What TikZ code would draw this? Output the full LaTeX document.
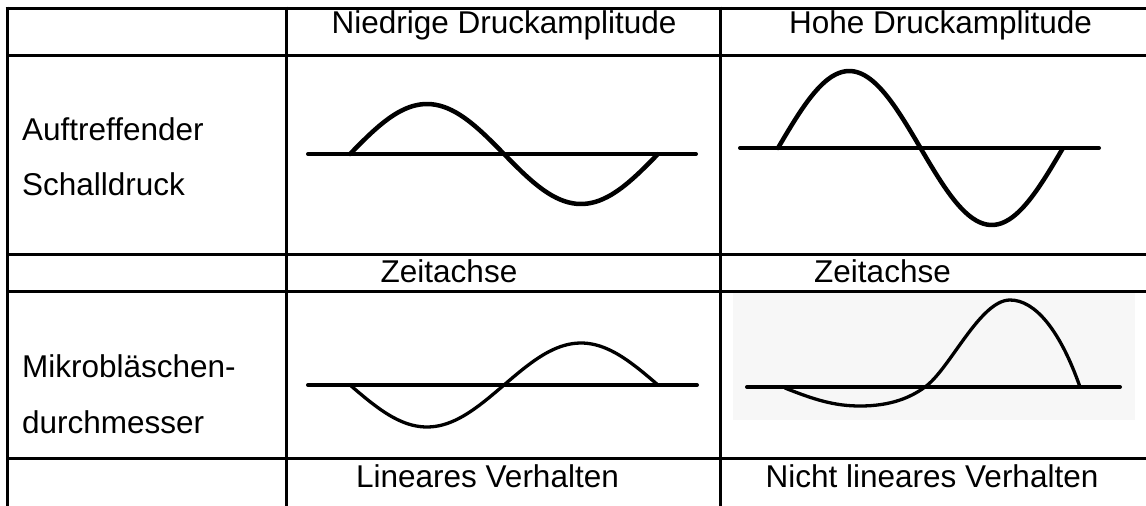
\documentclass[tikz,border=0pt]{standalone}
\usepackage{fontspec}
\setmainfont{Liberation Sans}
\begin{document}
\begin{tikzpicture}[x=1pt,y=-1pt,
  grid/.style={line width=3pt},
  wave/.style={line width=4.5pt, line cap=round, line join=round},
  thinwave/.style={line width=3.3pt, line cap=round, line join=round},
  axis/.style={line width=4pt, line cap=round},
  lbl/.style={inner sep=0pt, font=\fontsize{31.5}{38}\selectfont}]
\useasboundingbox (0,0) rectangle (1146,506);
% table grid
\draw[grid] (5.5,8) -- (1150,8);
\draw[grid] (7,55) -- (1150,55);
\draw[grid] (7,254) -- (1150,254);
\draw[grid] (7,291) -- (1150,291);
\draw[grid] (7,458) -- (1150,458);
\draw[grid] (7,6.5) -- (7,510);
\draw[grid] (286,6.5) -- (286,510);
\draw[grid] (720.5,6.5) -- (720.5,510);
% texts
\node[lbl, anchor=base] (h1) at (504,34) {Niedrige Druckamplitude};
\node[lbl, anchor=base] (h2) at (940.5,34) {Hohe Druckamplitude};
\node[lbl, anchor=base west] (r1a) at (22,140) {Auftreffender};
\node[lbl, anchor=base west] (r1b) at (22,195) {Schalldruck};
\node[lbl, anchor=base] (z1) at (449,282) {Zeitachse};
\node[lbl, anchor=base] (z2) at (882.5,282) {Zeitachse};
\node[lbl, anchor=base west] (r2a) at (22,377) {Mikrobläschen-};
\node[lbl, anchor=base west] (r2b) at (22,433) {durchmesser};
\node[lbl, anchor=base] (f1) at (487.5,487) {Lineares Verhalten};
\node[lbl, anchor=base] (f2) at (932,487) {Nicht lineares Verhalten};
% top-left: low amplitude
\draw[axis] (308,154) -- (696,154);
\draw[wave] plot[domain=0:1, samples=80, smooth] ({350+308*\x},{154-50*sin(360*\x)});
% top-right: high amplitude
\draw[axis] (740,148) -- (1099,148);
\draw[wave] plot[domain=0:1, samples=80, smooth] ({778+285*\x},{148-77*sin(360*\x)});
% bottom-left: linear
\draw[axis] (308,385) -- (697,385);
\draw[thinwave] plot[domain=0:1, samples=80, smooth] ({350+308*\x},{385+42*sin(360*\x)});
% bottom-right: nonlinear
\fill[black!3] (733,293) rectangle (1135,420);
\draw[axis] (747,387) -- (1120,387);
\draw[thinwave] (785,388) .. controls (815,400) and (835,406) .. (860,406)
  .. controls (890,406) and (910,398) .. (925,387)
  .. controls (950,369) and (980,300) .. (1010,300)
  .. controls (1035,300) and (1060,330) .. (1080,387);
\end{tikzpicture}
\end{document}
